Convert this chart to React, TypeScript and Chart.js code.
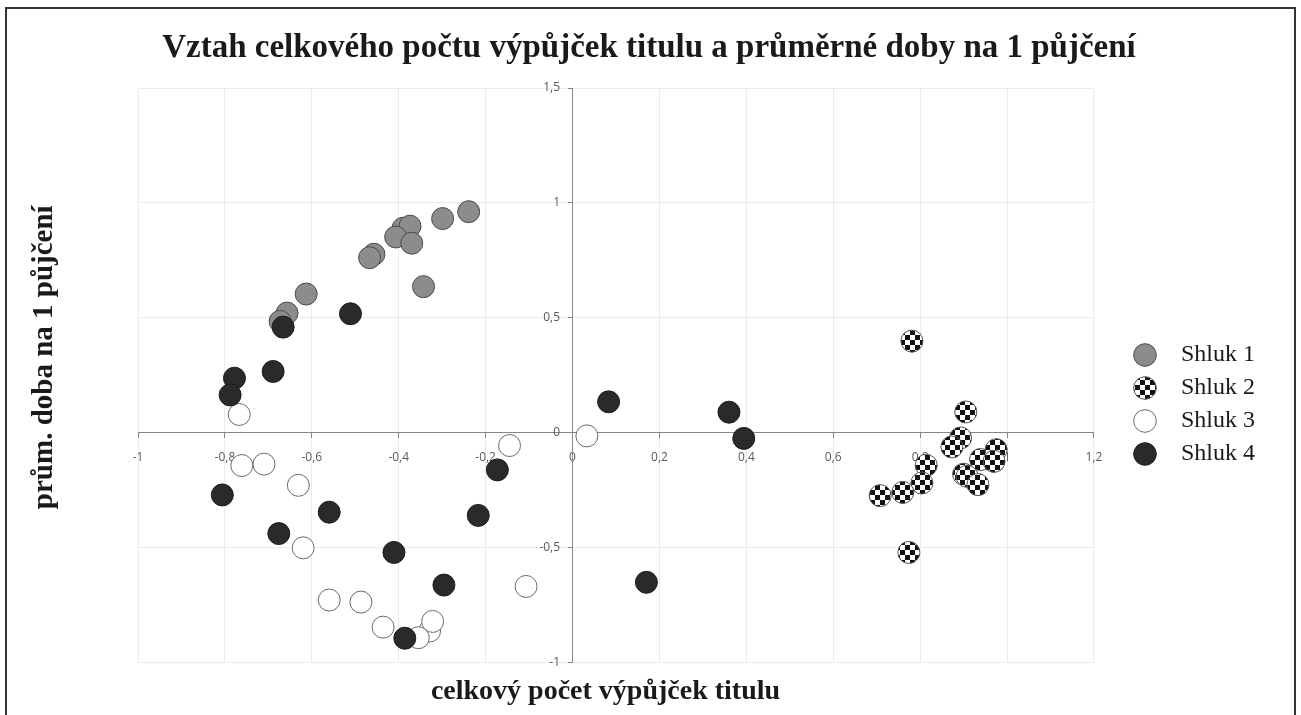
import React, { useEffect, useRef } from 'react';
import { Chart, registerables } from 'chart.js';

Chart.register(...registerables);

const chartTitle = 'Vztah celkového počtu výpůjček titulu a průměrné doby na 1 půjčení';
const xAxisTitle = 'celkový počet výpůjček titulu';
const yAxisTitle = 'prům. doba na 1 půjčení';
const seriesNames = ['Shluk 1', 'Shluk 2', 'Shluk 3', 'Shluk 4'];

const xTickValues = [-1, -0.8, -0.6, -0.4, -0.2, 0, 0.2, 0.4, 0.6, 0.8, 1, 1.2];
const yTickValues = [-1, -0.5, 0, 0.5, 1, 1.5];

const shluk1X = [-0.239, -0.299, -0.39, -0.374, -0.407, -0.37, -0.457, -0.467, -0.343, -0.613, -0.657, -0.673];
const shluk1Y = [0.962, 0.932, 0.89, 0.899, 0.852, 0.825, 0.777, 0.762, 0.636, 0.604, 0.521, 0.485];

const shluk2X = [0.781, 0.905, 0.893, 0.873, 0.814, 0.804, 0.939, 0.975, 0.97, 0.9, 0.908, 0.933, 0.76, 0.708, 0.774];
const shluk2Y = [0.399, 0.091, -0.022, -0.061, -0.141, -0.218, -0.116, -0.073, -0.124, -0.18, -0.189, -0.225, -0.259, -0.273, -0.52];

const shluk3X = [-0.767, -0.761, -0.71, -0.631, -0.62, -0.56, -0.487, -0.436, -0.329, -0.322, -0.355, -0.145, -0.107, 0.033];
const shluk3Y = [0.08, -0.142, -0.136, -0.228, -0.5, -0.727, -0.736, -0.845, -0.862, -0.82, -0.891, -0.055, -0.668, -0.013];

const shluk4X = [-0.511, -0.666, -0.689, -0.778, -0.788, -0.806, -0.56, -0.676, -0.411, -0.296, -0.386, -0.173, -0.217, 0.083, 0.36, 0.394, 0.17];
const shluk4Y = [0.518, 0.46, 0.267, 0.238, 0.165, -0.27, -0.345, -0.438, -0.52, -0.662, -0.893, -0.161, -0.359, 0.135, 0.09, -0.024, -0.65];

const fmt = (v: number) => {
  const r = Math.round(v * 10) / 10;
  return String(r).replace('.', ',');
};

const toPoints = (xs: number[], ys: number[]) => xs.map((x, i) => ({ x, y: ys[i] }));

function makeChecker(): CanvasPattern | string {
  const c = document.createElement('canvas');
  const s = 5;
  c.width = s * 2;
  c.height = s * 2;
  const g = c.getContext('2d');
  if (!g) return '#888';
  g.fillStyle = '#ffffff';
  g.fillRect(0, 0, s * 2, s * 2);
  g.fillStyle = '#111111';
  g.fillRect(0, 0, s, s);
  g.fillRect(s, s, s, s);
  const p = g.createPattern(c, 'repeat');
  return p || '#888';
}

const serif = '"Liberation Serif", "Times New Roman", serif';
const sans = '"Open Sans", "DejaVu Sans", sans-serif';

export default function App() {
  const ref = useRef<HTMLCanvasElement | null>(null);

  useEffect(() => {
    if (!ref.current) return;
    const checker = makeChecker();
    const common = { pointRadius: 11, pointHoverRadius: 11, pointBorderWidth: 1, pointStyle: 'circle', showLine: false, xAxisID: 'x', yAxisID: 'y' };
    const chart = new Chart(ref.current, {
      type: 'scatter',
      data: {
        datasets: [
          { ...common, label: seriesNames[0], data: toPoints(shluk1X, shluk1Y), backgroundColor: '#8c8c8c', borderColor: '#4a4a4a', order: 4 },
          { ...common, label: seriesNames[1], data: toPoints(shluk2X, shluk2Y), backgroundColor: checker, borderColor: '#555555', order: 3 },
          { ...common, label: seriesNames[2], data: toPoints(shluk3X, shluk3Y), backgroundColor: '#ffffff', borderColor: '#6a6a6a', order: 2 },
          { ...common, label: seriesNames[3], data: toPoints(shluk4X, shluk4Y), backgroundColor: '#2a2a2a', borderColor: '#1e1e1e', order: 1 },
        ],
      } as any,
      options: {
        responsive: false,
        animation: false,
        devicePixelRatio: 1,
        layout: { padding: { left: 0, right: 36, top: 0, bottom: 0 } },
        plugins: {
          tooltip: { enabled: false },
          title: {
            display: true,
            text: '    ' + chartTitle,
            color: '#1a1a1a',
            font: { family: serif, size: 33, weight: 'bold', lineHeight: 1.2 },
            padding: { top: 28.2, bottom: 20.2 },
          },
          legend: {
            display: true,
            position: 'right',
            align: 'center',
            title: { display: true, text: '', font: { size: 12, lineHeight: 1.2 }, padding: { top: 0, bottom: 79.6 } },
            labels: {
              usePointStyle: true,
              boxWidth: 24,
              boxHeight: 16,
              padding: 9,
              color: '#1a1a1a',
              font: { family: serif, size: 24 },
              sort: (a: any, b: any) => a.datasetIndex - b.datasetIndex,
              generateLabels: (c: any) =>
                Chart.defaults.plugins.legend.labels.generateLabels(c).map((l: any) => ({ ...l, text: '\u2002' + l.text })),
            },
          },
        },
        scales: {
          x: {
            type: 'linear',
            position: { y: 0 },
            min: -1,
            max: 1.2,
            afterBuildTicks: (s: any) => { s.ticks = xTickValues.map((v) => ({ value: v })); },
            ticks: { callback: (v: any) => fmt(Number(v)), color: '#595959', font: { family: sans, size: 12 }, padding: 12, autoSkip: false, maxRotation: 0 },
            grid: { color: '#ebebeb', tickColor: '#868686', tickLength: 5, drawTicks: true },
            border: { display: true, color: '#868686', width: 1 },
          },
          y: {
            type: 'linear',
            position: { x: 0 },
            min: -1,
            max: 1.5,
            afterBuildTicks: (s: any) => { s.ticks = yTickValues.map((v) => ({ value: v })); },
            ticks: { callback: (v: any) => fmt(Number(v)) + '    ', color: '#595959', font: { family: sans, size: 12 }, padding: 6, autoSkip: false },
            grid: { color: '#ebebeb', tickColor: '#868686', tickLength: 4, drawTicks: true },
            border: { display: true, color: '#868686', width: 1 },
          },
          x2: {
            type: 'linear',
            position: 'bottom',
            display: true,
            grid: { display: false, drawTicks: false },
            border: { display: false },
            ticks: { display: false },
            title: { display: true, text: xAxisTitle + '   ', color: '#1a1a1a', font: { family: serif, size: 28, weight: 'bold', lineHeight: 1.2 }, padding: { top: 12.4, bottom: 6.2 } },
          },
          y2: {
            type: 'linear',
            position: 'left',
            display: true,
            grid: { display: false, drawTicks: false },
            border: { display: false },
            ticks: { display: false },
            title: { display: true, text: '     ' + yAxisTitle, color: '#1a1a1a', font: { family: serif, size: 29, weight: 'bold', lineHeight: 1.2 }, padding: { top: 27.6, bottom: 75.6 } },
          },
          y3: {
            type: 'linear',
            position: 'right',
            display: true,
            grid: { display: false, drawTicks: false },
            border: { display: false },
            ticks: { display: false },
            title: { display: true, text: '', font: { size: 12, lineHeight: 1.2 }, padding: { top: 0, bottom: 15.6 } },
          },
        },
      } as any,
    });
    return () => chart.destroy();
  }, []);

  return (
    <div style={{ position: 'fixed', left: 0, top: 0, width: 1301, height: 715, background: '#ffffff', overflow: 'hidden' }}>
      <canvas ref={ref} width={1301} height={715} style={{ display: 'block', width: 1301, height: 715 }} />
      <div style={{ position: 'absolute', left: 5, top: 7, width: 1291, height: 760, border: '2px solid #333333', boxSizing: 'border-box', pointerEvents: 'none' }} />
    </div>
  );
}
